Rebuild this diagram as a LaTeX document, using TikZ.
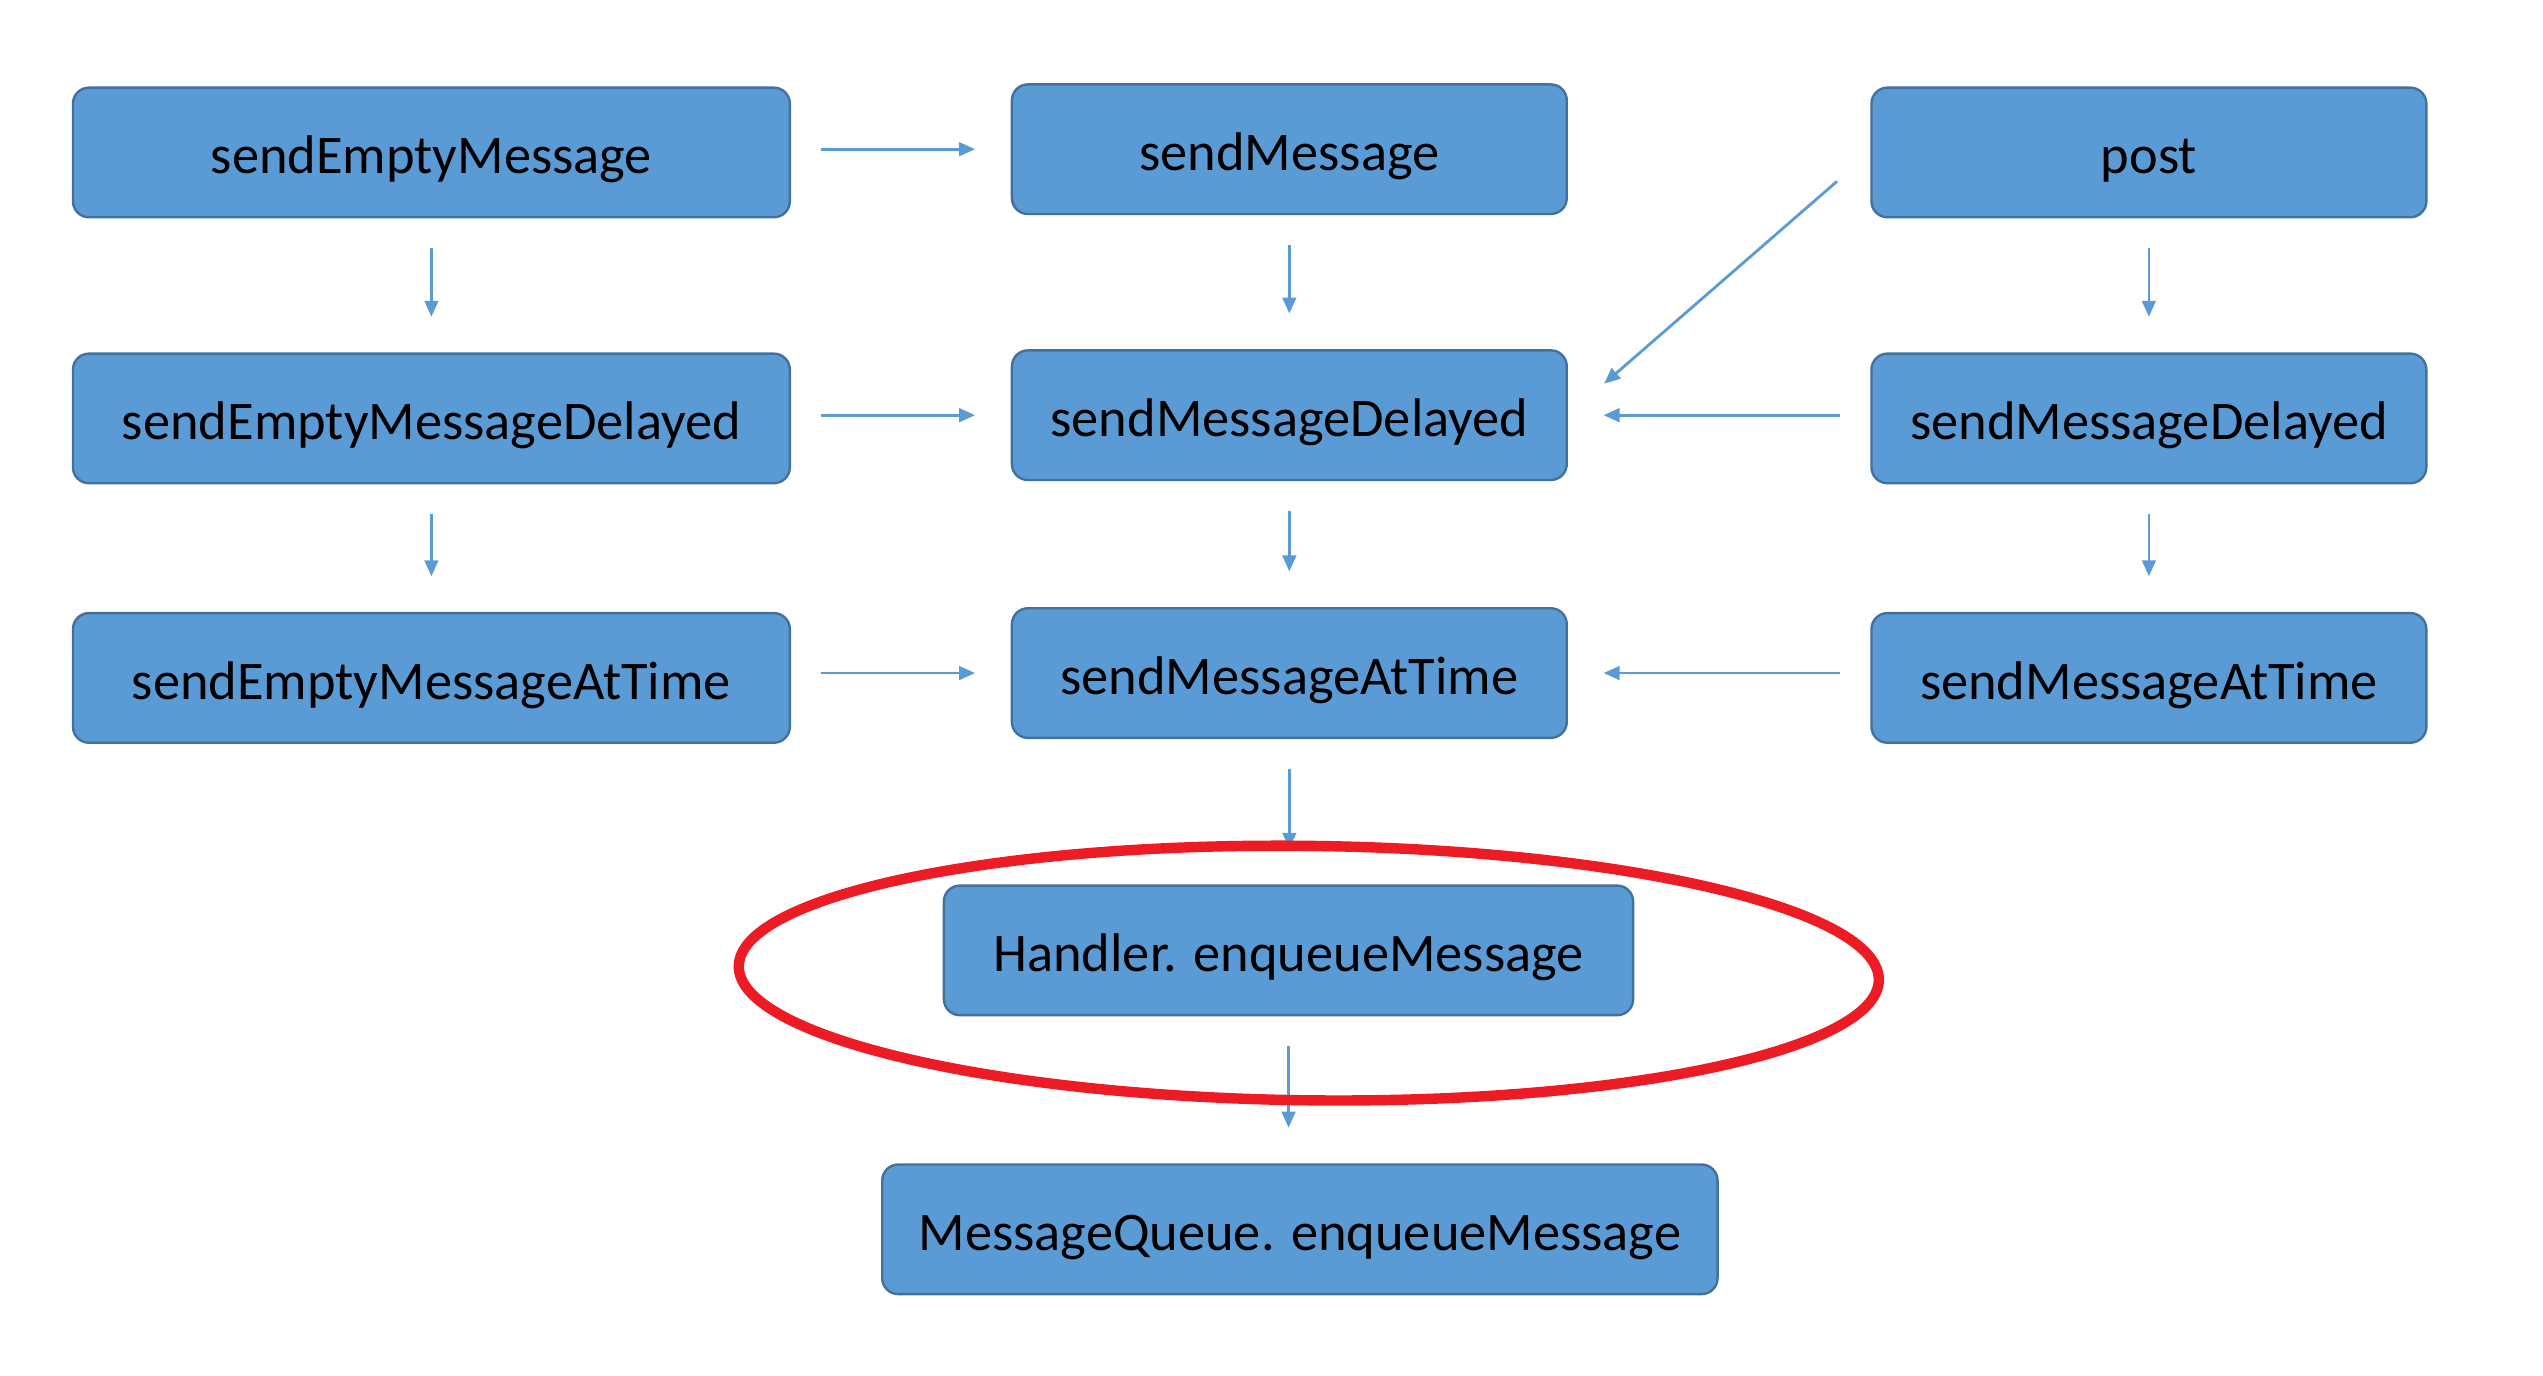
\documentclass[tikz,border=0pt]{standalone}
\usepackage{fontspec}
\setmainfont{Carlito}
\usetikzlibrary{arrows.meta}
\definecolor{boxfill}{HTML}{5B9BD5}
\definecolor{boxline}{HTML}{41719C}
\definecolor{hlred}{HTML}{ED1C24}
\begin{document}
\begin{tikzpicture}[x=0.4054pt,y=-0.4054pt,
  fnbox/.style={draw=boxline, fill=boxfill, rounded corners=4pt, line width=0.6pt,
    minimum height=32.4pt, inner sep=0pt, text height=14pt, text depth=3.4pt,
    font=\fontsize{13.6}{16}\selectfont, text=black},
  wide/.style={minimum width=179.2pt},
  mid/.style={minimum width=138.7pt},
  arr/.style={draw=boxfill, line width=0.7pt, -{Triangle[length=4pt,width=3.4pt]},
    shorten <=7.5pt, shorten >=8.9pt}]
\useasboundingbox (0,0) rectangle (1568,848);
% column 1
\node[fnbox,wide] (se1) at (266,94) {sendEmptyMessage};
\node[fnbox,wide] (se2) at (266,258) {sendEmptyMessageDelayed};
\node[fnbox,wide] (se3) at (266,418) {sendEmptyMessageAtTime};
% column 2
\node[fnbox,mid] (sm1) at (795,92) {sendMessage};
\node[fnbox,mid] (sm2) at (795,256) {sendMessageDelayed};
\node[fnbox,mid] (sm3) at (795,415) {sendMessageAtTime};
% column 3
\node[fnbox,mid] (po1) at (1325,94) {post};
\node[fnbox,mid] (po2) at (1325,258) {sendMessageDelayed};
\node[fnbox,mid] (po3) at (1325,418) {sendMessageAtTime};
% bottom
\node[fnbox,minimum width=172.3pt] (hq) at (794.5,586) {Handler. enqueueMessage};
\node[fnbox,minimum width=208.8pt] (mq) at (801.5,758) {MessageQueue. enqueueMessage};
% horizontal arrows
\draw[arr] (se1.east |- sm1) -- (sm1.west);
\draw[arr] (se2.east |- sm2) -- (sm2.west);
\draw[arr] (se3.east |- sm3) -- (sm3.west);
\draw[arr] (po2.west |- sm2) -- (sm2.east);
\draw[arr] (po3.west |- sm3) -- (sm3.east);
\draw[arr, shorten <=11pt, shorten >=12pt] (po1.west) -- (sm2.east);
% vertical arrows
\draw[arr] (se1.south) -- (se2.north);
\draw[arr] (se2.south) -- (se3.north);
\draw[arr] (sm1.south) -- (sm2.north);
\draw[arr] (sm2.south) -- (sm3.north);
\draw[arr] (po1.south) -- (po2.north);
\draw[arr] (po2.south) -- (po3.north);
\draw[arr] (sm3.south) -- (sm3.south |- hq.north);
\draw[arr] (hq.south) -- (hq.south |- mq.north);
% highlight ellipse
\draw[hlred, line width=2.6pt, rotate around={-0.7:(807,600)}] (807,600) ellipse [x radius=142.5pt, y radius=31.8pt];
\end{tikzpicture}
\end{document}
